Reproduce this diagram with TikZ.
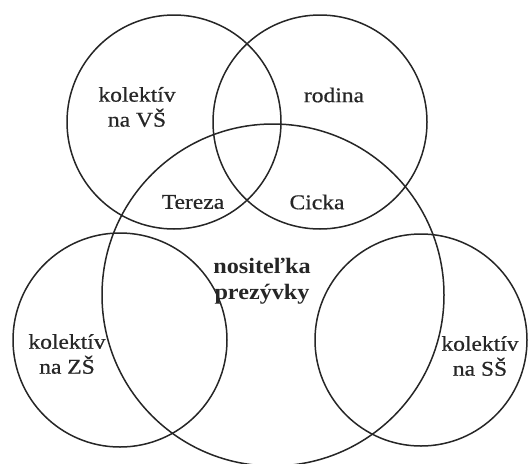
\documentclass[tikz,border=0pt]{standalone}
\usepackage{fontspec}
\setmainfont{Liberation Serif}
\newfontfamily\lblfont[FakeStretch=1.12,FakeBold=0.6]{Liberation Serif}
\newfontfamily\lblbfont[FakeStretch=1.1]{Liberation Serif Bold}
\begin{document}
\begin{tikzpicture}[x=1pt,y=-1pt,
  setcircle/.style={draw=black!85,line width=1.5pt},
  lbl/.style={font=\lblfont\fontsize{21}{25}\selectfont,align=center,inner sep=0pt,text=black!85},
  lblb/.style={lbl,font=\lblbfont\fontsize{22}{26}\selectfont}]
\useasboundingbox[fill=white] (0,0) rectangle (529,463);
\draw[setcircle] (174,122) circle (107) coordinate (cvs);
\draw[setcircle] (320,122) circle (107) coordinate (crod);
\draw[setcircle] (273,295) circle (171) coordinate (cnos);
\draw[setcircle] (120,340) circle (107) coordinate (czs);
\draw[setcircle] (421,340) circle (106) coordinate (css);
\node[lbl] (vs) at (137,107) {kolektív\\na VŠ};
\node[lbl] (rod) at (334,95) {rodina};
\node[lbl] (ter) at (193,202) {Tereza};
\node[lbl] (cic) at (317,202) {Cicka};
\node[lblb] (nos) at (262,281) {nositeľka\\prezývky};
\node[lbl] (zs) at (67,354) {kolektív\\na ZŠ};
\node[lbl] (ss) at (480,356) {kolektív\\na SŠ};
\end{tikzpicture}
\end{document}
